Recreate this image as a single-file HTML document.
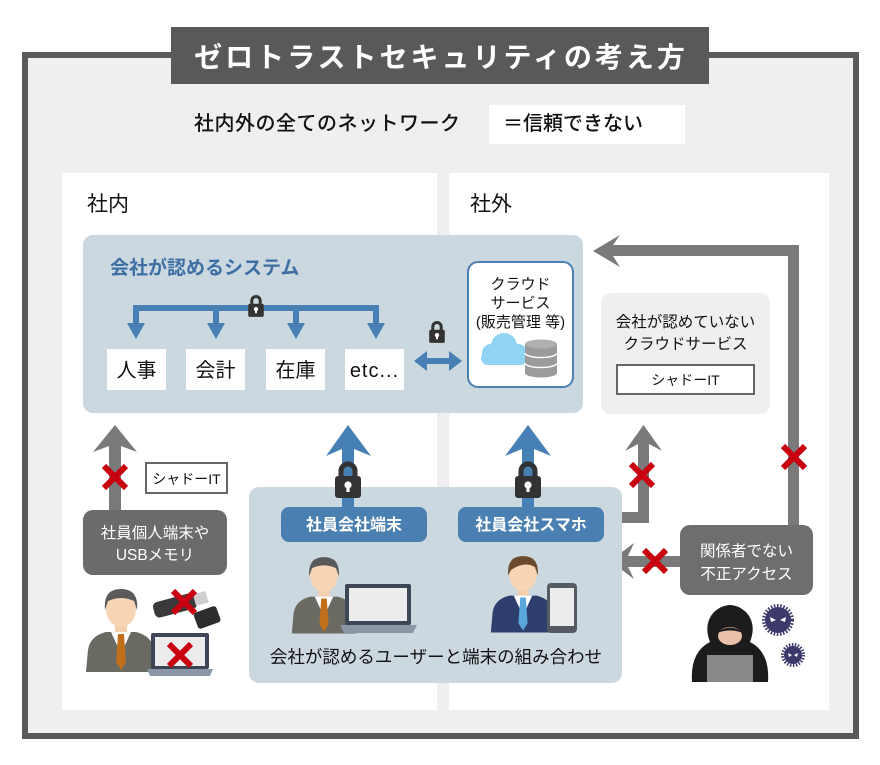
<!DOCTYPE html>
<html><head><meta charset="utf-8">
<style>
html,body{margin:0;padding:0;background:#fff;}
svg{display:block;}
text{font-family:"Liberation Sans","Noto Sans CJK JP",sans-serif;}
</style></head>
<body>
<svg width="880" height="765" viewBox="0 0 880 765" xmlns="http://www.w3.org/2000/svg">
<defs>
<symbol id="lock" viewBox="0 0 30 38">
<path d="M8,18 V11 A7,7 0 0 1 22,11 V18" stroke="#333" stroke-width="5" fill="none"/>
<rect x="2" y="16" width="26" height="22" rx="3" fill="#333"/>
<circle cx="15" cy="25" r="3.6" fill="#fff"/>
<rect x="13.4" y="25" width="3.2" height="7" fill="#fff"/>
</symbol>
<g id="xmark"><path d="M-11,-11 L11,11 M11,-11 L-11,11" stroke="#c8000f" stroke-width="6"/></g>
</defs>
<rect width="880" height="765" fill="#fff"/>
<!-- outer frame -->
<rect x="25" y="55" width="831" height="681" fill="#efeef0" stroke="#595959" stroke-width="6"/>
<!-- title -->
<rect x="171" y="27" width="538" height="57" fill="#595959"/>
<text x="441" y="67" text-anchor="middle" font-size="28" font-weight="bold" fill="#fff" letter-spacing="3">ゼロトラストセキュリティの考え方</text>
<!-- subtitle -->
<text x="194" y="130" font-size="20" font-weight="500" fill="#111" letter-spacing="0.5">社内外の全てのネットワーク</text>
<rect x="489" y="105" width="196" height="39" fill="#fff"/>
<text x="503" y="130" font-size="20" font-weight="500" fill="#111">＝信頼できない</text>
<!-- panels -->
<rect x="62" y="173" width="375" height="537" fill="#fff"/>
<rect x="449" y="173" width="380" height="537" fill="#fff"/>
<text x="87" y="211" font-size="21" fill="#111">社内</text>
<text x="470" y="211" font-size="21" fill="#111">社外</text>

<!-- system box -->
<rect x="83" y="235" width="500" height="178" rx="10" fill="#cbd8df"/>
<text x="110" y="274" font-size="19" font-weight="bold" fill="#3d6fa5">会社が認めるシステム</text>
<!-- tree -->
<g fill="#4680b4">
<rect x="133" y="305" width="246" height="6"/>
<rect x="133" y="305" width="6" height="21"/>
<rect x="213" y="305" width="6" height="21"/>
<rect x="293" y="305" width="6" height="21"/>
<rect x="373" y="305" width="6" height="21"/>
<polygon points="127,323 145,323 136,339"/>
<polygon points="207,323 225,323 216,339"/>
<polygon points="287,323 305,323 296,339"/>
<polygon points="367,323 385,323 376,339"/>
</g>
<use href="#lock" x="247" y="294" width="18" height="23"/>
<!-- boxes -->
<g fill="#fff">
<rect x="107" y="349" width="59" height="41"/>
<rect x="186" y="349" width="59" height="41"/>
<rect x="266" y="349" width="59" height="41"/>
<rect x="345" y="349" width="59" height="41"/>
</g>
<g font-size="20" fill="#111" text-anchor="middle">
<text x="136.5" y="377">人事</text>
<text x="215.5" y="377">会計</text>
<text x="295.5" y="377">在庫</text>
<text x="374.5" y="377" letter-spacing="1">etc...</text>
</g>
<!-- double arrow -->
<g fill="#4680b4">
<rect x="424" y="358" width="28" height="6"/>
<polygon points="414,361 427,351 427,371"/>
<polygon points="462,361 449,351 449,371"/>
</g>
<use href="#lock" x="428" y="320" width="18" height="23"/>
<!-- cloud box -->
<rect x="468" y="262" width="105" height="125" rx="10" fill="#fff" stroke="#4a80b3" stroke-width="2"/>
<g font-size="15" fill="#111" text-anchor="middle">
<text x="520.5" y="289">クラウド</text>
<text x="520.5" y="308">サービス</text>
<text x="520.5" y="327">(販売管理 等)</text>
</g>
<g fill="#8fd4f2">
<circle cx="491" cy="353" r="9"/>
<circle cx="504" cy="346" r="13"/>
<circle cx="518" cy="353" r="9"/>
<rect x="481" y="351" width="46" height="14" rx="7"/>
</g>
<g>
<rect x="525" y="344" width="32" height="29" fill="#9b9b9b"/>
<ellipse cx="541" cy="373" rx="16" ry="4.5" fill="#9b9b9b"/>
<ellipse cx="541" cy="344" rx="16" ry="4.5" fill="#b0b0b0"/>
<path d="M525,353 a16,4.5 0 0 0 32,0 M525,363 a16,4.5 0 0 0 32,0" stroke="#fff" stroke-width="1.5" fill="none"/>
</g>

<!-- unauthorised cloud box -->
<rect x="601" y="293" width="169" height="121" rx="10" fill="#efeef0"/>
<g font-size="15.5" fill="#111" text-anchor="middle">
<text x="685.5" y="327">会社が認めていない</text>
<text x="685.5" y="349">クラウドサービス</text>
</g>
<rect x="617" y="365" width="137" height="29" fill="#fff" stroke="#666" stroke-width="2"/>
<text x="685.5" y="385" font-size="14" fill="#111" text-anchor="middle">シャドーIT</text>

<!-- big gray arrow -->
<g fill="#7a7a7a">
<rect x="788" y="245" width="11" height="282"/>
<rect x="612" y="245" width="187" height="11"/>
<polygon points="593,251 620,235 613,245 613,256 620,267"/>
<!-- right up arrow -->
<rect x="638" y="444" width="11" height="79"/>
<rect x="620" y="512" width="29" height="11"/>
<polygon points="643.5,425 662,451 649,444 638,444 625,451"/>
<!-- left arrow -->
<rect x="627" y="556" width="55" height="11"/>
<polygon points="610,561 634,543 628,556 628,567 634,579"/>
<!-- left side up arrow -->
<rect x="109" y="446" width="12" height="66"/>
<polygon points="115,425 137,452 121,446 109,446 93,452"/>
</g>
<use href="#xmark" x="794" y="457"/>
<use href="#xmark" x="642" y="475"/>
<use href="#xmark" x="655" y="561"/>
<use href="#xmark" x="115" y="477"/>

<!-- unauthorised access box -->
<rect x="680" y="525" width="133" height="70" rx="10" fill="#6e6e6e"/>
<g font-size="15.5" fill="#fff" text-anchor="middle">
<text x="746.5" y="556">関係者でない</text>
<text x="746.5" y="579">不正アクセス</text>
</g>
<!-- hacker -->
<path d="M692,682 Q690,652 710,642 Q703,624 714,612 Q730,598 746,612 Q757,624 750,642 Q770,652 768,682 Z" fill="#1c1c1c"/>
<ellipse cx="730" cy="636" rx="12" ry="9" fill="#e9c0a8"/>
<path d="M717,633 Q730,622 743,633 Q730,628 717,633 Z" fill="#1c1c1c"/>
<rect x="707" y="655" width="46" height="27" fill="#888"/>
<g fill="#3b3a6b">
<circle cx="778" cy="620" r="13"/>
<circle cx="778" cy="620" r="14.5" fill="none" stroke="#3b3a6b" stroke-width="3" stroke-dasharray="1.6 1.6"/>
<circle cx="793" cy="655" r="9"/>
<circle cx="793" cy="655" r="10.5" fill="none" stroke="#3b3a6b" stroke-width="3" stroke-dasharray="1.5 1.5"/>
</g>
<g fill="#fff">
<polygon points="770,617 776,620 771,622"/>
<polygon points="786,617 780,620 785,622"/>
<polygon points="788,653 792,655 789,657"/>
<polygon points="798,653 794,655 797,657"/>
</g>

<!-- left gray box -->
<rect x="146" y="463" width="81" height="30" fill="#fff" stroke="#666" stroke-width="2"/>
<text x="186.5" y="484" font-size="14" fill="#111" text-anchor="middle">シャドーIT</text>
<rect x="83" y="510" width="144" height="65" rx="10" fill="#6b6b6b"/>
<g font-size="15.5" fill="#fff" text-anchor="middle">
<text x="155" y="538">社員個人端末や</text>
<text x="155" y="560">USBメモリ</text>
</g>

<!-- left person -->
<g transform="translate(121,590)">
<path d="M-35,82 L-33,60 Q-31,46 -15,42 L15,42 Q31,46 33,60 L35,82 Z" fill="#6a6a62"/>
<rect x="-6" y="32" width="12" height="12" fill="#f4cfae"/>
<polygon points="-10,42 10,42 0,64" fill="#fff"/>
<polygon points="-3,44 3,44 5,72 0,80 -5,72" fill="#c0701a"/>
<ellipse cx="0" cy="19" rx="15" ry="18" fill="#f7d5b5"/>
<path d="M-16,20 Q-18,-1 0,-1 Q18,-1 16,20 L13,11 Q0,5 -13,11 Z" fill="#5a5a5a"/>
</g>
<!-- USB -->
<g transform="translate(180,604) rotate(-15)">
<rect x="-27" y="-8" width="44" height="16" rx="5" fill="#3a3a3a"/>
<rect x="15" y="-6" width="13" height="12" fill="#cfcfcf"/>
</g>
<g transform="translate(207,617) rotate(-20)">
<rect x="-12" y="-8" width="24" height="17" rx="3" fill="#2e2e2e"/>
</g>
<use href="#xmark" x="184" y="602"/>
<!-- left laptop -->
<rect x="151" y="633" width="58" height="36" rx="2" fill="#3c4655"/>
<rect x="155" y="637" width="50" height="29" fill="#ececec"/>
<path d="M147,669 L213,669 L210,676 L150,676 Z" fill="#8a96a6"/>
<use href="#xmark" x="180" y="655"/>

<!-- bottom centre box -->
<rect x="249" y="487" width="373" height="196" rx="10" fill="#cbd8df"/>
<g fill="#4680b4">
<rect x="342" y="448" width="12" height="62"/>
<polygon points="348,425 371,456 354,449 342,449 326,456"/>
<rect x="522" y="448" width="12" height="62"/>
<polygon points="528,425 551,456 534,449 522,449 505,456"/>
</g>
<use href="#lock" x="333" y="460" width="30" height="38"/>
<use href="#lock" x="513" y="460" width="30" height="38"/>
<rect x="281" y="507" width="146" height="35" rx="8" fill="#4a7fb2"/>
<rect x="458" y="507" width="146" height="35" rx="8" fill="#4a7fb2"/>
<g font-size="16" fill="#fff" text-anchor="middle" font-weight="bold">
<text x="354" y="530">社員会社端末</text>
<text x="531" y="530">社員会社スマホ</text>
</g>
<!-- person 2 -->
<g transform="translate(324,558) scale(0.92)">
<path d="M-35,82 L-33,60 Q-31,46 -15,42 L15,42 Q31,46 33,60 L35,82 Z" fill="#6a6a62"/>
<rect x="-6" y="32" width="12" height="12" fill="#f4cfae"/>
<polygon points="-10,42 10,42 0,64" fill="#fff"/>
<polygon points="-3,44 3,44 5,72 0,80 -5,72" fill="#c0701a"/>
<ellipse cx="0" cy="19" rx="15" ry="18" fill="#f7d5b5"/>
<path d="M-16,20 Q-18,-1 0,-1 Q18,-1 16,20 L13,11 Q0,5 -13,11 Z" fill="#5a5a5a"/>
</g>
<rect x="345" y="584" width="66" height="41" rx="2" fill="#3c4655"/>
<rect x="349" y="588" width="58" height="33" fill="#ececec"/>
<path d="M340,625 L417,625 L413,633 L344,633 Z" fill="#8a96a6"/>
<!-- person 3 -->
<g transform="translate(523,557) scale(0.92)">
<path d="M-35,82 L-33,60 Q-31,46 -15,42 L15,42 Q31,46 33,60 L35,82 Z" fill="#2e3f6e"/>
<rect x="-6" y="32" width="12" height="12" fill="#f4cfae"/>
<polygon points="-10,42 10,42 0,64" fill="#fff"/>
<polygon points="-3,44 3,44 5,72 0,80 -5,72" fill="#5aa6dc"/>
<ellipse cx="0" cy="19" rx="15" ry="18" fill="#f7d5b5"/>
<path d="M-16,20 Q-18,-1 0,-1 Q18,-1 16,20 L13,11 Q2,4 -13,14 Z" fill="#6b4a2e"/>
</g>
<rect x="547" y="583" width="30" height="50" rx="4" fill="#555a63"/>
<rect x="550" y="588" width="24" height="38" fill="#ececec"/>
<text x="436" y="663" font-size="17.5" fill="#111" text-anchor="middle">会社が認めるユーザーと端末の組み合わせ</text>
</svg>
</body></html>
